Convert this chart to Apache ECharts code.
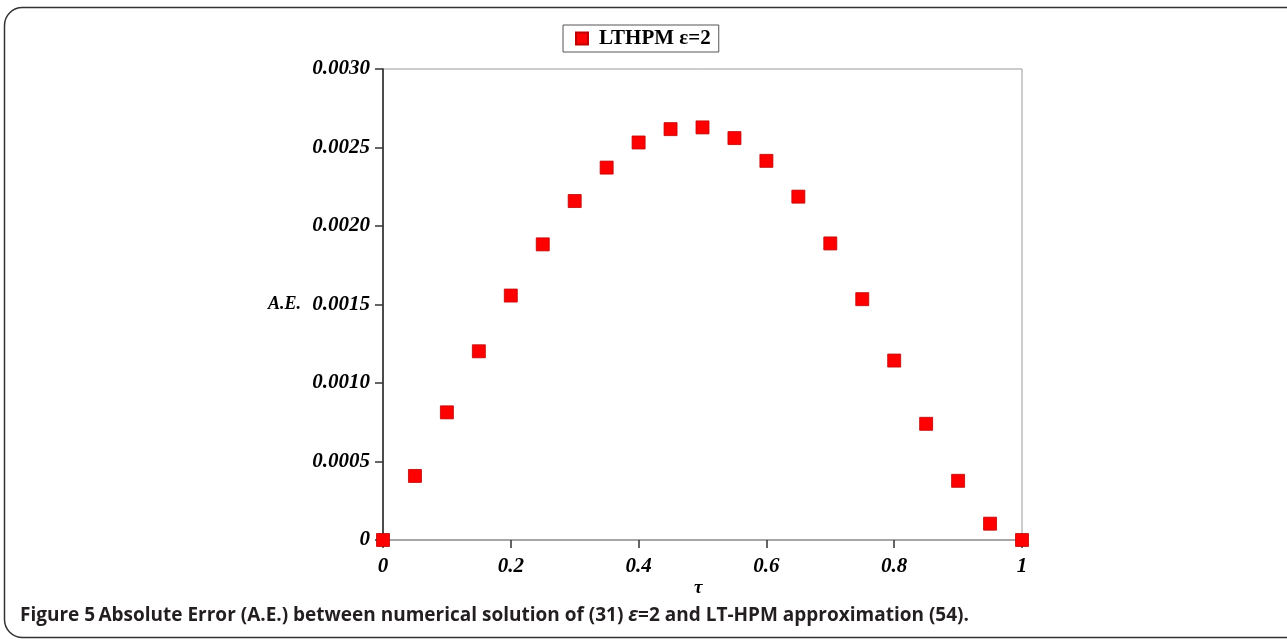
<!DOCTYPE html>
<html><head><meta charset="utf-8">
<script src="https://cdn.jsdelivr.net/npm/echarts@6/dist/echarts.min.js"></script>
<style>html,body{margin:0;padding:0;background:#fff}#c{width:1287px;height:640px}</style>
</head><body><div id="c"></div>
<script>
const xValues = [0,0.05,0.1,0.15,0.2,0.25,0.3,0.35,0.4,0.45,0.5,0.55,0.6,0.65,0.7,0.75,0.8,0.85,0.9,0.95,1];
const aeValues = [0,0.000408,0.000813,0.001202,0.001557,0.001883,0.002159,0.002372,0.002532,0.002617,0.002628,0.002560,0.002415,0.002187,0.001889,0.001534,0.001143,0.000740,0.000377,0.000104,0];
const seriesName = 'LTHPM ε=2';
const xTicks = [0,0.2,0.4,0.6,0.8,1];
const yTicks = [0,0.0005,0.001,0.0015,0.002,0.0025,0.003];

const serif = '"Liberation Serif","Times New Roman",serif';
const chart = echarts.init(document.getElementById('c'), null, {renderer:'canvas'});
chart.setOption({
  animation:false,
  backgroundColor:'#fff',
  graphic:[
    {type:'rect', shape:{x:4.5,y:7.5,width:1320,height:630,r:18}, style:{fill:'none',stroke:'#333',lineWidth:1.5}, silent:true, z:-1},
    {type:'text', left:694, top:579, style:{text:'τ', fontFamily:serif, fontStyle:'italic', fontWeight:'bold', fontSize:19, fill:'#000'}},
    {type:'text', left:20, top:606, style:{
      text:'{b|Figure 5} {n|Absolute Error (A.E.) between numerical solution of (31) }{i|ε}{n|=2 and LT-HPM approximation (54).}',
      rich:{
        b:{fontFamily:'"Open Sans",sans-serif',fontWeight:'bold',fontSize:19,fill:'#231f20'},
        n:{fontFamily:'"Open Sans",sans-serif',fontWeight:'bold',fontSize:19,fill:'#231f20'},
        i:{fontFamily:'"Open Sans",sans-serif',fontWeight:'bold',fontStyle:'italic',fontSize:19,fill:'#231f20'}
      }
    }}
  ],
  legend:{
    data:[seriesName], top:25, left:563,
    borderColor:'#555', borderWidth:1, padding:[3,8,3,12],
    itemWidth:12, itemHeight:12, itemGap:10, icon:'rect',
    textStyle:{fontFamily:serif, fontWeight:'bold', fontSize:21, color:'#000', padding:[0,0,0,6]}
  },
  grid:{left:383, right:265, top:69, bottom:100, show:true, borderColor:'#999', borderWidth:1, containLabel:false},
  xAxis:{
    type:'value', min:0, max:1, interval:0.2,
    axisLine:{lineStyle:{color:'#999',width:1.5}},
    axisTick:{show:true, inside:false, length:8, lineStyle:{color:'#333',width:1.5}},
    axisLabel:{margin:16, fontFamily:serif, fontStyle:'italic', fontWeight:'bold', fontSize:21, color:'#000',
      formatter:v=>String(Math.round(v*10)/10)},
    splitLine:{show:false}
  },
  yAxis:{
    type:'value', min:0, max:0.003, interval:0.0005,
    name:'A.E.', nameLocation:'middle', nameRotate:0, nameGap:82,
    nameTextStyle:{fontFamily:serif, fontStyle:'italic', fontWeight:'bold', fontSize:18, color:'#000'},
    axisLine:{lineStyle:{color:'#222',width:1.5}},
    axisTick:{show:true, inside:false, length:8, lineStyle:{color:'#333',width:1.5}},
    axisLabel:{margin:13, fontFamily:serif, fontStyle:'italic', fontWeight:'bold', fontSize:21, color:'#000',
      formatter:v=> v===0 ? '0' : v.toFixed(4)},
    splitLine:{show:false}
  },
  series:[{
    name:seriesName, type:'scatter', symbol:'rect', symbolSize:13,
    itemStyle:{color:'#ff0000', borderColor:'#c00000', borderWidth:0.8, opacity:1},
    data:xValues.map((x,i)=>[x,aeValues[i]]), z:5
  }]
});
</script></body></html>
